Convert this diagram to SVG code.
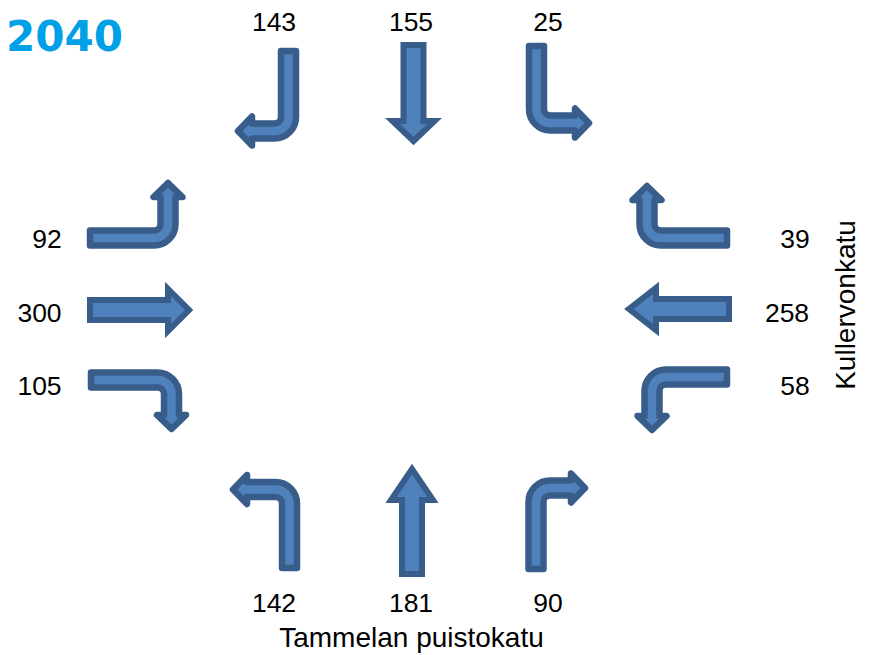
<svg xmlns="http://www.w3.org/2000/svg" width="876" height="655" viewBox="0 0 876 655">
<style>
.arr{fill:#4F81BD;stroke:#385D8A;stroke-width:6;stroke-linejoin:miter}
.bent{fill:#4F81BD;stroke:#385D8A;stroke-width:6.5;stroke-linejoin:round}
.num{font-family:"Liberation Sans",Arial,sans-serif;font-size:26.5px;fill:#000;text-anchor:middle}
.lbl{font-family:"Liberation Sans",Arial,sans-serif;font-size:28px;fill:#000;text-anchor:middle}
.year{font-family:"DejaVu Sans",Verdana,sans-serif;font-weight:bold;font-size:42px;fill:#00A0E6}
</style>
<rect width="876" height="655" fill="#fff"/>
<text class="year" x="6" y="51">2040</text>
<g id="connectors">
<g id="arrow-143"><path class="bent" transform="translate(288.5,131)" d="M7.5,-80 L7.5,-14 A21.5 21.5 0 0 1 -14,7.5 L-36.5,7.5 L-36.5,14.5 L-50.5,0 L-36.5,-14.5 L-36.5,-7.5 L-14,-7.5 A6.5 6.5 0 0 0 -7.5,-14 L-7.5,-80 Z"/></g>
<g id="arrow-155"><polygon class="arr" points="403.5,45 423.5,45 423.5,121 434.5,121 413.5,141 392.5,121 403.5,121"/></g>
<g id="arrow-25"><path class="bent" transform="translate(536.5,123) scale(-1,1)" d="M7.5,-77 L7.5,-14 A21.5 21.5 0 0 1 -14,7.5 L-38.5,7.5 L-38.5,14.5 L-52.5,0 L-38.5,-14.5 L-38.5,-7.5 L-14,-7.5 A6.5 6.5 0 0 0 -7.5,-14 L-7.5,-77 Z"/></g>
<g id="arrow-92"><path class="bent" transform="matrix(0,1,1,0,168,238)" d="M7.5,-78 L7.5,-14 A21.5 21.5 0 0 1 -14,7.5 L-41,7.5 L-41,14.5 L-55,0 L-41,-14.5 L-41,-7.5 L-14,-7.5 A6.5 6.5 0 0 0 -7.5,-14 L-7.5,-78 Z"/></g>
<g id="arrow-300"><polygon class="arr" points="90,300 168,300 168,289 189,310 168,331 168,320 90,320"/></g>
<g id="arrow-105"><path class="bent" transform="matrix(0,-1,1,0,171.5,380)" d="M7.5,-80.5 L7.5,-14 A21.5 21.5 0 0 1 -14,7.5 L-35,7.5 L-35,14.5 L-49,0 L-35,-14.5 L-35,-7.5 L-14,-7.5 A6.5 6.5 0 0 0 -7.5,-14 L-7.5,-80.5 Z"/></g>
<g id="arrow-39"><path class="bent" transform="matrix(0,1,-1,0,647,238)" d="M7.5,-80 L7.5,-14 A21.5 21.5 0 0 1 -14,7.5 L-38,7.5 L-38,14.5 L-52,0 L-38,-14.5 L-38,-7.5 L-14,-7.5 A6.5 6.5 0 0 0 -7.5,-14 L-7.5,-80 Z"/></g>
<g id="arrow-258"><polygon class="arr" points="729,299 656,299 656,288 629,309 656,330 656,319 729,319"/></g>
<g id="arrow-58"><path class="bent" transform="matrix(0,-1,-1,0,652,377)" d="M7.5,-75 L7.5,-14 A21.5 21.5 0 0 1 -14,7.5 L-39,7.5 L-39,14.5 L-53,0 L-39,-14.5 L-39,-7.5 L-14,-7.5 A6.5 6.5 0 0 0 -7.5,-14 L-7.5,-75 Z"/></g>
<g id="arrow-142"><path class="bent" transform="translate(289.5,489.5) scale(1,-1)" d="M7.5,-78.5 L7.5,-14 A21.5 21.5 0 0 1 -14,7.5 L-42.5,7.5 L-42.5,14.5 L-56.5,0 L-42.5,-14.5 L-42.5,-7.5 L-14,-7.5 A6.5 6.5 0 0 0 -7.5,-14 L-7.5,-78.5 Z"/></g>
<g id="arrow-181"><polygon class="arr" points="402,574 422,574 422,500 433,500 412,469 391,500 402,500"/></g>
<g id="arrow-90"><path class="bent" transform="translate(536,488) scale(-1,-1)" d="M7.5,-81 L7.5,-14 A21.5 21.5 0 0 1 -14,7.5 L-35,7.5 L-35,14.5 L-49,0 L-35,-14.5 L-35,-7.5 L-14,-7.5 A6.5 6.5 0 0 0 -7.5,-14 L-7.5,-81 Z"/></g>
</g>
<g id="labels">
<text class="num" x="274" y="31">143</text>
<text class="num" x="411" y="31">155</text>
<text class="num" x="548" y="31">25</text>
<text class="num" x="47" y="248">92</text>
<text class="num" x="39.5" y="322">300</text>
<text class="num" x="39.5" y="395">105</text>
<text class="num" x="795" y="248">39</text>
<text class="num" x="787" y="322">258</text>
<text class="num" x="795" y="395">58</text>
<text class="num" x="274" y="612">142</text>
<text class="num" x="411" y="612">181</text>
<text class="num" x="548" y="612">90</text>
<text class="lbl" x="411.5" y="647">Tammelan puistokatu</text>
<text class="lbl" transform="translate(855,305) rotate(-90)" x="0" y="0">Kullervonkatu</text>
</g>
</svg>
